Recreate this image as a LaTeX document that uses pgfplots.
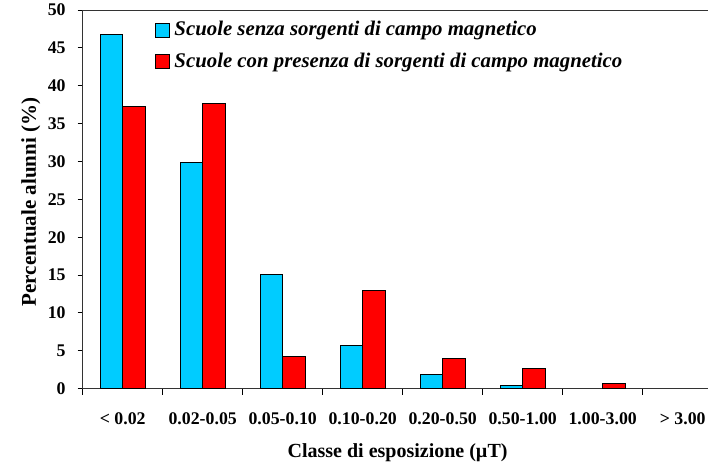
\documentclass[border=0pt]{standalone}
\usepackage{pgfplots}
\pgfplotsset{compat=1.18}
\usepackage{fontspec}
\setmainfont{Liberation Serif}
\definecolor{mycyan}{RGB}{0,204,255}
\definecolor{myred}{RGB}{255,0,0}
\begin{document}
\begin{tikzpicture}
\begin{axis}[
  scale only axis,
  width=320pt, height=189.35pt,
  xmin=-0.5, xmax=7.5,
  ymin=0, ymax=50,
  ybar=0pt, bar width=0.28,
  axis line style={line width=0.5pt, draw=black!80},
  xtick={0,...,7},
  xticklabels={{< 0.02},{0.02-0.05},{0.05-0.10},{0.10-0.20},{0.20-0.50},{0.50-1.00},{1.00-3.00},{> 3.00}},
  minor xtick={-0.5,0.5,...,7.5},
  major x tick style={draw=none},
  minor tick length=3pt,
  major tick length=2.5pt,
  ytick={0,5,...,50},
  tick align=outside,
  xtick pos=bottom, ytick pos=left,
  tick style={black, line width=0.5pt},
  /pgf/number format/assume math mode=true,
  ticklabel style={font=\fontsize{8.9}{10}\selectfont\bfseries},
  xticklabel style={yshift=-6pt},
  yticklabel style={xshift=-2.5pt},
  ylabel={Percentuale alunni (\%)},
  xlabel={Classe di esposizione (µT)},
  ylabel style={at={(axis description cs:-0.081,0.493)}, anchor=center, font=\fontsize{10.5}{12}\selectfont\bfseries},
  xlabel style={at={(axis description cs:0.492,-0.170)}, anchor=center, font=\fontsize{10}{12}\selectfont\bfseries},
  legend style={at={(axis description cs:0.11,0.987)}, anchor=north west, draw=none, fill=none,
    font=\fontsize{10.4}{12}\selectfont\bfseries\itshape, row sep=3.2pt, inner sep=1pt},
  legend cell align=left,
  legend image code/.code={\draw[#1, draw=black, line width=0.5pt] (0pt,-3.5pt) rectangle (7pt,3.5pt);},
]
\addplot[fill=mycyan, draw=black, line width=0.5pt] coordinates {(0,46.8) (1,29.9) (2,15.1) (3,5.7) (4,1.9) (5,0.4)};
\addplot[fill=myred, draw=black, line width=0.5pt] coordinates {(0,37.3) (1,37.6) (2,4.3) (3,12.9) (4,4.05) (5,2.65) (6,0.75)};
\legend{Scuole senza sorgenti di campo magnetico, Scuole con presenza di sorgenti di campo magnetico}
\end{axis}
\pgfresetboundingbox
\useasboundingbox (-41.35pt,-41.15pt) rectangle (312.65pt,194.35pt);
\end{tikzpicture}
\end{document}
